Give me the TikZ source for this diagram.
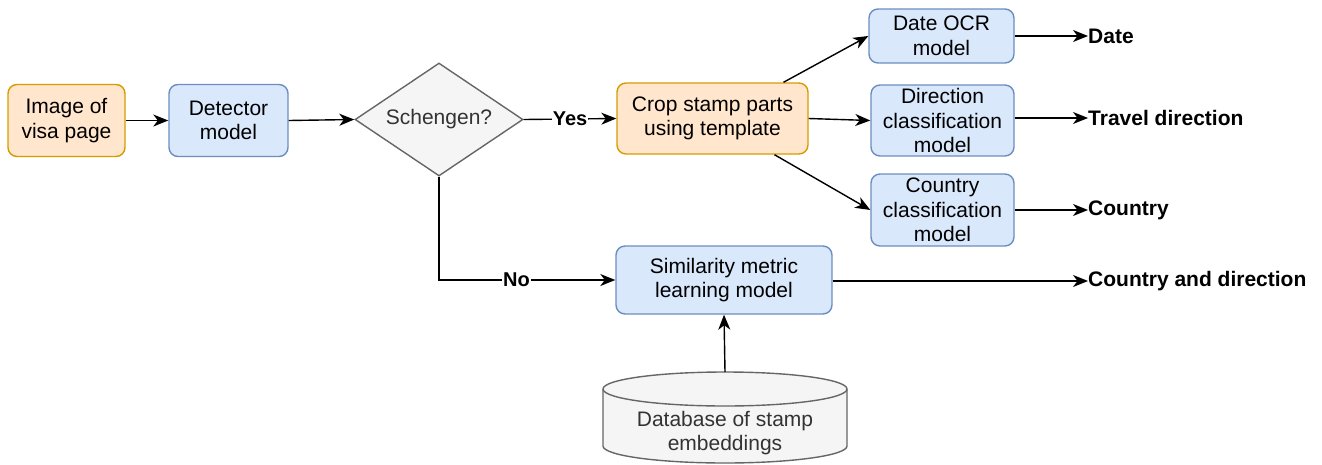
\documentclass[tikz,border=0pt]{standalone}
\usepackage{fontspec}
\setmainfont{Liberation Sans}
\usetikzlibrary{shapes.geometric,arrows.meta,calc}
\definecolor{ofill}{HTML}{FFE6CC}
\definecolor{oline}{HTML}{D79B00}
\definecolor{bfill}{HTML}{DAE8FC}
\definecolor{bline}{HTML}{6C8EBF}
\definecolor{gfill}{HTML}{F5F5F5}
\definecolor{gline}{HTML}{666666}
\definecolor{gtext}{HTML}{333333}
\tikzset{
  base/.style={rectangle, rounded corners=9pt, line width=1.4pt, inner sep=0pt, align=center,
    font=\fontsize{21}{24.5}\selectfont},
  obox/.style={base, draw=oline, fill=ofill},
  bbox/.style={base, draw=bline, fill=bfill},
  decision/.style={diamond, draw=gline, fill=gfill, text=gtext, line width=1.4pt, inner sep=0pt,
    shape aspect=1.49, minimum width=168pt, minimum height=113pt, font=\fontsize{21}{24.5}\selectfont},
  outlbl/.style={anchor=west, inner sep=0pt, font=\fontsize{21}{24.5}\selectfont\bfseries},
  edgelbl/.style={fill=white, inner sep=1pt, font=\fontsize{20}{22}\selectfont\bfseries},
  arr/.style={line width=1.4pt, -{Stealth[length=15pt,width=12pt,inset=4.5pt]}},
}
\begin{document}
\begin{tikzpicture}[x=1pt,y=-1pt]
\useasboundingbox (0,0) rectangle (1322,464);
\node[obox, minimum width=117pt, minimum height=72pt] (img) at (66.5,120.5) {Image of\\visa page};
\node[bbox, minimum width=119pt, minimum height=72pt] (det) at (228.5,120.5) {Detector\\model};
\node[decision] (sch) at (439,119.5) {Schengen?};
\node[obox, minimum width=191pt, minimum height=71pt] (crop) at (712.5,118.5) {Crop stamp parts\\using template};
\node[bbox, minimum width=145pt, minimum height=54pt] (date) at (941.5,36) {Date OCR\\model};
\node[bbox, minimum width=143pt, minimum height=71pt] (dir) at (942.5,120.5) {Direction\\classification\\model};
\node[bbox, minimum width=143pt, minimum height=72pt] (cty) at (942.5,210) {Country\\classification\\model};
\node[bbox, minimum width=216pt, minimum height=68pt] (sim) at (724,280) {Similarity metric\\learning model};
% database cylinder
\fill[gfill] (603,389) -- (603,446) arc[start angle=180,end angle=360,x radius=122pt,y radius=17pt]
  -- (847,389) arc[start angle=0,end angle=180,x radius=122pt,y radius=17pt] -- cycle;
\draw[gline, line width=1.4pt] (603,389) -- (603,446) arc[start angle=180,end angle=360,x radius=122pt,y radius=17pt]
  -- (847,389) arc[start angle=0,end angle=180,x radius=122pt,y radius=17pt];
\draw[gline, line width=1.4pt] (603,389) arc[start angle=180,end angle=360,x radius=122pt,y radius=17pt];
\node[inner sep=0pt, align=center, text=gtext, font=\fontsize{21}{24.5}\selectfont] (db) at (725,433) {Database of stamp\\embeddings};
\coordinate (dbtop) at (725,372);
% outputs
\node[outlbl] (oDate) at (1088,36) {Date};
\node[outlbl] (oDir) at (1088,118) {Travel direction};
\node[outlbl] (oCty) at (1088,210) {Country};
\node[outlbl] (oCD) at (1088,281) {Country and direction};
% connectors
\draw[arr] (img.east) -- (det.west);
\draw[arr] (det.east) -- (sch.west);
\draw[arr] (sch.east) -- node[edgelbl, pos=0.5] {Yes} (crop.west);
\draw[arr] (sch.south) |- node[edgelbl, pos=0.72] {No} (sim.west);
\draw[arr] ([xshift=71pt]crop.north) -- (date.west);
\draw[arr] (crop.east) -- (dir.west);
\draw[arr] ([xshift=62pt]crop.south) -- (cty.west);
\draw[arr] (date.east) -- (oDate.west);
\draw[arr] (dir.east |- oDir.west) -- (oDir.west);
\draw[arr] (cty.east) -- (oCty.west);
\draw[arr] (sim.east |- oCD.west) -- (oCD.west);
\draw[arr] (dbtop) -- (sim.south);
\end{tikzpicture}
\end{document}
